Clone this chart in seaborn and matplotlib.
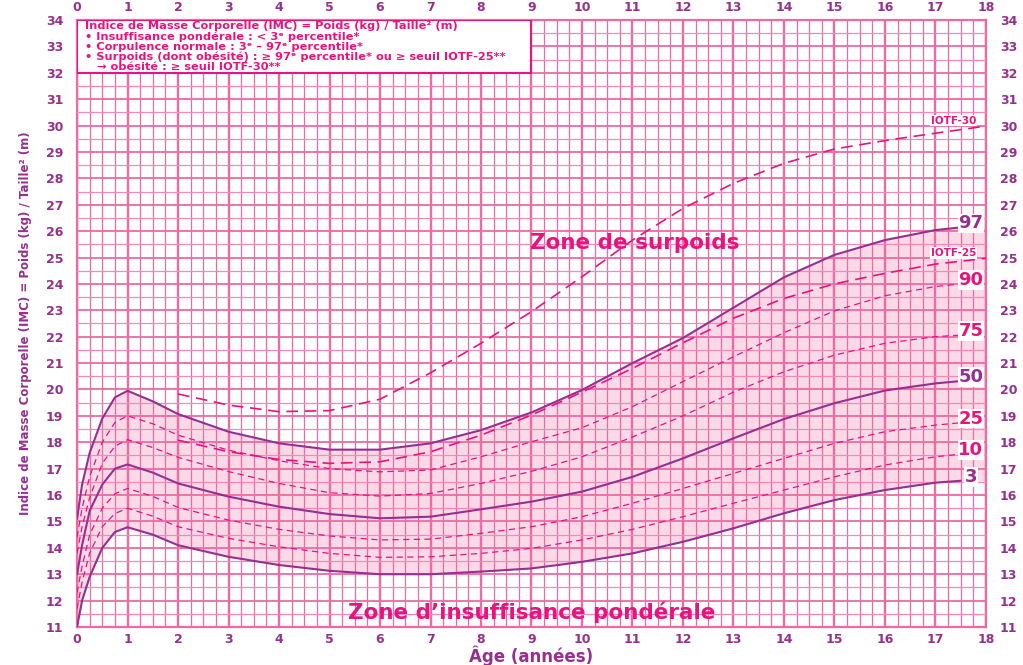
import numpy as np
import matplotlib
matplotlib.use("Agg")
import matplotlib.pyplot as plt
import seaborn as sns
from matplotlib.patches import Rectangle

# Courbes de corpulence (IMC)
ages = [0, 0.1, 0.25, 0.5, 0.75, 1, 1.5, 2, 3, 4, 5, 6, 7, 8, 9, 10, 11, 12, 13, 14, 15, 16, 17, 17.5]
p97 = [15.1, 16.4, 17.6, 18.9, 19.7, 19.95, 19.55, 19.07, 18.4, 17.96, 17.72, 17.72, 17.96, 18.46, 19.13, 19.98, 21.0, 21.95, 23.1, 24.25, 25.1, 25.66, 26.04, 26.14]
p90 = [14.4, 15.5, 16.7, 18.0, 18.75, 19.0, 18.7, 18.27, 17.7, 17.3, 17.0, 16.88, 16.95, 17.45, 18.02, 18.55, 19.35, 20.3, 21.24, 22.15, 22.98, 23.55, 23.9, 24.0]
p75 = [13.8, 14.8, 15.9, 17.2, 17.85, 18.1, 17.8, 17.43, 16.89, 16.44, 16.09, 15.96, 16.06, 16.44, 16.9, 17.45, 18.2, 19.0, 19.9, 20.67, 21.3, 21.75, 22.0, 22.06]
p50 = [13.0, 14.1, 15.4, 16.4, 17.0, 17.16, 16.85, 16.44, 15.94, 15.56, 15.28, 15.12, 15.18, 15.46, 15.75, 16.13, 16.69, 17.39, 18.15, 18.88, 19.48, 19.96, 20.23, 20.32]
p25 = [12.3, 13.3, 14.5, 15.5, 16.05, 16.25, 15.95, 15.53, 15.05, 14.7, 14.45, 14.3, 14.33, 14.55, 14.8, 15.18, 15.69, 16.25, 16.82, 17.39, 17.96, 18.4, 18.65, 18.74]
p10 = [11.7, 12.7, 13.8, 14.8, 15.3, 15.5, 15.2, 14.8, 14.36, 14.04, 13.79, 13.64, 13.66, 13.79, 13.98, 14.3, 14.7, 15.18, 15.69, 16.19, 16.69, 17.14, 17.45, 17.55]
p3 = [11.0, 12.0, 12.9, 14.0, 14.6, 14.78, 14.5, 14.1, 13.66, 13.35, 13.13, 13.0, 13.0, 13.1, 13.22, 13.47, 13.79, 14.23, 14.74, 15.31, 15.81, 16.19, 16.47, 16.54]

ages_iotf = [2, 3, 4, 5, 6, 7, 8, 9, 10, 11, 12, 13, 14, 15, 16, 17, 18]
iotf25 = [18.08, 17.64, 17.35, 17.2, 17.26, 17.64, 18.27, 19.03, 19.9, 20.8, 21.77, 22.7, 23.45, 24.0, 24.4, 24.75, 24.97]
iotf30 = [19.83, 19.41, 19.16, 19.2, 19.63, 20.63, 21.75, 22.95, 24.27, 25.66, 26.86, 27.81, 28.57, 29.11, 29.43, 29.71, 29.98]

x_ticks = list(range(0, 19))
y_ticks = list(range(11, 35))

legende = [
    "Indice de Masse Corporelle (IMC) = Poids (kg) / Taille² (m)",
    "• Insuffisance pondérale : < 3ᵉ percentile*",
    "• Corpulence normale : 3ᵉ – 97ᵉ percentile*",
    "• Surpoids (dont obésité) : ≥ 97ᵉ percentile* ou ≥ seuil IOTF-25**",
    "   → obésité : ≥ seuil IOTF-30**",
]

VIOLET = "#962f8f"
MAGENTA = "#e8137f"
GRILLE = "#ee6aa3"
GRILLE_FINE = "#f38bb8"
ROSE = "#fbd9e7"

sns.set_style("white")
plt.rcParams["font.family"] = ["DejaVu Sans"]

fig = plt.figure(figsize=(10.23, 6.65), dpi=100)
ax = fig.add_axes([0.0753, 0.0571, 0.8885, 0.9129])

# zone normale entre P3 et P97
fill_x = ages + [18]
ax.fill_between(fill_x, p3 + [p3[-1]], p97 + [p97[-1]], color=ROSE, lw=0, zorder=1)

solid = {"97": p97, "50": p50, "3": p3}
dashed = {"90": p90, "75": p75, "25": p25, "10": p10}
for nom, vals in solid.items():
    sns.lineplot(x=ages, y=vals, ax=ax, color=VIOLET, linewidth=1.5, zorder=3)
for nom, vals in dashed.items():
    sns.lineplot(x=ages, y=vals, ax=ax, color=MAGENTA, linewidth=0.9,
                 linestyle=(0, (5, 3.5)), zorder=3)
for vals in (iotf25, iotf30):
    sns.lineplot(x=ages_iotf, y=vals, ax=ax, color=MAGENTA, linewidth=1.2,
                 linestyle=(0, (7, 4)), zorder=3)

# etiquettes des percentiles
for nom, vals in list(solid.items()) + list(dashed.items()):
    col = VIOLET if nom in solid else MAGENTA
    ax.text(17.7, vals[-1] + 0.15, nom, color=col, fontsize=13, fontweight="bold",
            ha="center", va="center", zorder=5,
            bbox=dict(facecolor="white", edgecolor="none", pad=0.5))
for nom, vals in (("IOTF-30", iotf30), ("IOTF-25", iotf25)):
    ax.text(17.36, vals[-1] + 0.2, nom, color=MAGENTA, fontsize=7.5, fontweight="bold",
            ha="center", va="center", zorder=5,
            bbox=dict(facecolor="white", edgecolor="none", pad=0.4))

ax.text(11.05, 25.55, "Zone de surpoids", color=MAGENTA, fontsize=15.5,
        fontweight="bold", ha="center", va="center", zorder=5)
ax.text(9.0, 11.57, "Zone d\u2019insuffisance pondérale", color=MAGENTA, fontsize=15.5,
        fontweight="bold", ha="center", va="center", zorder=5)

# encadre de legende
ax.add_patch(Rectangle((0, 32.0), 9, 2.0, facecolor="white", edgecolor=MAGENTA,
                       lw=1.5, zorder=4))
for i, ligne in enumerate(legende):
    ax.text(0.16, 33.76 - i * 0.385, ligne, color=MAGENTA, fontsize=8.2,
            fontweight="bold", ha="left", va="center", zorder=5)

ax.set_xlim(0, 18)
ax.set_ylim(11, 34)
ax.set_xticks(x_ticks)
ax.set_yticks(y_ticks)
ax.set_xticks(np.arange(0, 18.01, 0.25), minor=True)
ax.set_yticks(np.arange(11, 34.01, 0.5), minor=True)
ax.set_axisbelow(False)
ax.grid(which="minor", axis="x", color=GRILLE, lw=0.9)
ax.grid(which="major", axis="x", color=GRILLE, lw=1.7)
ax.grid(which="minor", axis="y", color=GRILLE_FINE, lw=0.9)
ax.grid(which="major", axis="y", color=GRILLE, lw=1.3)

ax.tick_params(which="both", length=0)
ax.tick_params(axis="x", top=True, labeltop=True, pad=4)
ax.tick_params(axis="y", right=True, labelright=True, pad=10)
for lab in ax.get_xticklabels() + ax.get_yticklabels():
    lab.set_color(VIOLET)
    lab.set_fontweight("bold")
    lab.set_fontsize(9)
for s in ax.spines.values():
    s.set_color(GRILLE)
    s.set_linewidth(1.6)

ax.set_xlabel("Âge (années)", color=VIOLET, fontsize=12, fontweight="bold", labelpad=0)
ax.set_ylabel("Indice de Masse Corporelle (IMC) = Poids (kg) / Taille² (m)", color=VIOLET,
              fontsize=8.5, fontweight="bold", labelpad=10)

fig.savefig("out.png", dpi=100)
